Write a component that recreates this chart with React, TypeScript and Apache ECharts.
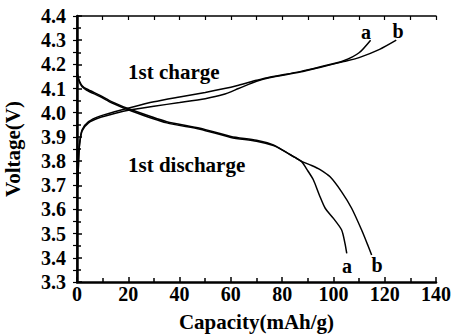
import React, { useEffect, useRef } from "react";
import * as echarts from "echarts";

const xTicks = [0, 20, 40, 60, 80, 100, 120, 140];
const yTicks = [3.3, 3.4, 3.5, 3.6, 3.7, 3.8, 3.9, 4.0, 4.1, 4.2, 4.3, 4.4];

const chargeA: [number, number][] = [
  [0.3, 3.69], [0.6, 3.8], [1, 3.87], [2, 3.93], [4.5, 3.963], [8.4, 3.984],
  [15, 4.005], [21, 4.022], [30, 4.045], [40, 4.065], [50, 4.084], [57, 4.099],
  [63, 4.114], [70, 4.134], [75, 4.147], [87, 4.17], [95, 4.19], [104, 4.215],
  [110, 4.248], [114.5, 4.3],
];
const chargeB: [number, number][] = [
  [0.3, 3.69], [0.6, 3.8], [1, 3.87], [2, 3.925], [4.5, 3.958], [8.4, 3.978],
  [15, 3.998], [21, 4.012], [30, 4.027], [40, 4.042], [50, 4.058], [57, 4.075],
  [63, 4.1], [70, 4.13], [75, 4.145], [87, 4.168], [95, 4.188], [104, 4.212],
  [110, 4.228], [118, 4.262], [124.5, 4.3],
];
const dischargeA: [number, number][] = [
  [0, 4.17], [0.4, 4.15], [1, 4.13], [2, 4.112], [3.8, 4.098], [9, 4.072], [13.7, 4.045],
  [21.5, 4.011], [35, 3.963], [48, 3.936], [60, 3.902], [70, 3.886], [76.6, 3.867],
  [80, 3.846], [85, 3.815], [87.6, 3.797], [90, 3.76], [92.2, 3.722], [94.5, 3.66],
  [96.8, 3.605], [100, 3.563], [103.2, 3.515], [104.5, 3.46], [105.2, 3.418],
];
const dischargeB: [number, number][] = [
  [0, 4.165], [0.4, 4.145], [1, 4.125], [2, 4.107], [3.8, 4.093], [9, 4.067], [13.7, 4.04],
  [21.5, 4.006], [35, 3.958], [48, 3.932], [60, 3.898], [70, 3.882], [76.6, 3.864],
  [80, 3.846], [85, 3.815], [88, 3.797], [91.5, 3.782], [94.8, 3.765], [98.7, 3.735],
  [103.2, 3.673], [107.1, 3.605], [111, 3.515], [113.5, 3.45], [114.9, 3.412],
];

const FONT = "Liberation Serif";

export default function App() {
  const ref = useRef<HTMLDivElement>(null);
  useEffect(() => {
    if (!ref.current) return;
    const chart = echarts.init(ref.current, undefined, { renderer: "svg" });
    const mkLine = (name: string, data: [number, number][]) => ({
      name,
      type: "line",
      data,
      showSymbol: false,
      smooth: 0.25,
      lineStyle: { color: "#000", width: 1.5 },
      silent: true,
    });
    const txt = (text: string, x: number, y: number, align: string, size: number) => ({
      type: "text",
      x,
      y,
      style: {
        text,
        fontFamily: FONT,
        fontWeight: "bold",
        fontSize: size,
        fill: "#000",
        align,
        verticalAlign: "middle",
      },
    });
    chart.setOption({
      animation: false,
      textStyle: { fontFamily: FONT },
      grid: {
        left: 77, right: 24, top: 16, bottom: 53,
        containLabel: false, outerBoundsMode: "none",
      },
      xAxis: [
        {
          type: "value",
          min: xTicks[0],
          max: xTicks[xTicks.length - 1],
          interval: 20,
          position: "bottom",
          name: "Capacity(mAh/g)",
          nameLocation: "middle",
          nameGap: 29,
          nameTextStyle: { fontFamily: FONT, fontWeight: "bold", fontSize: 21, color: "#000" },
          axisLine: { show: true, lineStyle: { color: "#000", width: 2.5 } },
          axisTick: { show: true, inside: true, length: 5, lineStyle: { color: "#000", width: 1.5 } },
          minorTick: { show: true, splitNumber: 2, length: 4, lineStyle: { color: "#000", width: 1.5 } },
          axisLabel: { fontFamily: FONT, fontWeight: "bold", fontSize: 20, color: "#000", margin: 2 },
          splitLine: { show: false },
        },
        {
          type: "value",
          min: xTicks[0],
          max: xTicks[xTicks.length - 1],
          interval: 10,
          position: "top",
          axisLine: { show: true, lineStyle: { color: "#000", width: 1.5 } },
          axisTick: { show: true, inside: true, length: 4, lineStyle: { color: "#000", width: 1.2 } },
          minorTick: { show: false },
          axisLabel: { show: false },
          splitLine: { show: false },
        },
      ],
      yAxis: [
        {
          type: "value",
          min: yTicks[0],
          max: yTicks[yTicks.length - 1],
          interval: 0.1,
          position: "left",
          name: "Voltage(V)",
          nameLocation: "middle",
          nameGap: 54,
          nameRotate: 90,
          nameTextStyle: { fontFamily: FONT, fontWeight: "bold", fontSize: 21, color: "#000" },
          axisLine: { show: true, lineStyle: { color: "#000", width: 2.5 } },
          axisTick: { show: true, inside: true, length: 5, lineStyle: { color: "#000", width: 1.5 } },
          minorTick: { show: true, splitNumber: 2, length: 4, lineStyle: { color: "#000", width: 1.5 } },
          axisLabel: {
            fontFamily: FONT, fontWeight: "bold", fontSize: 20, color: "#000", margin: 11,
            formatter: (v: number) => v.toFixed(1),
          },
          splitLine: { show: false },
        },
        {
          type: "value",
          min: yTicks[0],
          max: yTicks[yTicks.length - 1],
          interval: 0.05,
          position: "right",
          axisLine: { show: true, lineStyle: { color: "#000", width: 1.5 } },
          axisTick: { show: true, inside: true, length: 4, lineStyle: { color: "#000", width: 1.2 } },
          minorTick: { show: false },
          axisLabel: { show: false },
          splitLine: { show: false },
        },
      ],
      series: [
        mkLine("charge a", chargeA),
        mkLine("charge b", chargeB),
        mkLine("discharge a", dischargeA),
        mkLine("discharge b", dischargeB),
      ],
      graphic: [
        txt("1st charge", 128, 72, "left", 21),
        txt("1st discharge", 128, 165, "left", 21),
        txt("a", 366, 32, "center", 20),
        txt("b", 398, 31, "center", 20),
        txt("a", 347, 266, "center", 20),
        txt("b", 377, 265, "center", 20),
      ],
    });
    return () => chart.dispose();
  }, []);
  return (
    <div
      ref={ref}
      style={{ position: "fixed", left: 0, top: 0, width: 460, height: 335, background: "#fff" }}
    />
  );
}
